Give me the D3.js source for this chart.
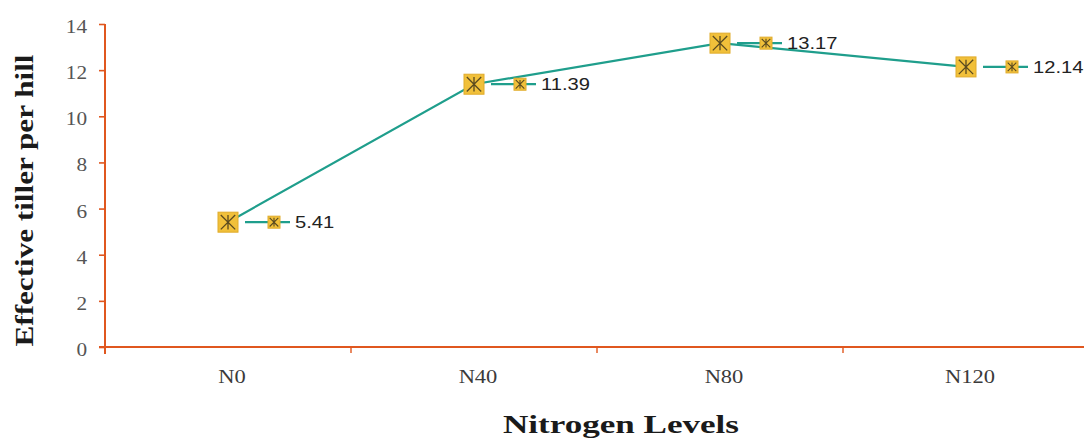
<!DOCTYPE html>
<html>
<head>
<meta charset="utf-8">
<script src="https://cdn.jsdelivr.net/npm/d3@7"></script>
<style>
  html, body { margin: 0; padding: 0; background: #fff; }
  svg { display: block; }
</style>
</head>
<body>
<svg id="chart" width="1084" height="440"></svg>
<script>
// Effective tillers per hill at each nitrogen level
const levels = ["N0", "N40", "N80", "N120"];
const tillers = [5.41, 11.39, 13.17, 12.14];
const yTicks = [0, 2, 4, 6, 8, 10, 12, 14];

const svg = d3.select("#chart");
const W = 1084, H = 440;
const m = { left: 105, top: 24, bottom: 93 };
const plotRight = 1089;

const axisColor = "#e0571f";
const lineColor = "#1f9e8c";
const markFill = "#f1c03a";
const markEdge = "#e0ab2a";
const starColor = "#5a4a20";
const serif = "'Liberation Serif', 'Times New Roman', serif";
const sans = "'Liberation Sans', Arial, sans-serif";

// widen a text element horizontally by factor k
function widen(sel, k) {
  sel.each(function () {
    const w = this.getComputedTextLength();
    d3.select(this).attr("textLength", w * k).attr("lengthAdjust", "spacingAndGlyphs");
  });
}

const x = d3.scaleBand().domain(levels).range([m.left, plotRight]);
const y = d3.scaleLinear().domain([0, 14]).range([H - m.bottom, m.top]);
const cx = d => x(d) + x.bandwidth() / 2;

// y axis
const yAxis = svg.append("g").attr("transform", `translate(${m.left},0)`)
  .call(d3.axisLeft(y).tickValues(yTicks).tickSize(6).tickPadding(12));
yAxis.select(".domain").attr("stroke", axisColor).attr("stroke-width", 2)
  .attr("d", `M0,${y(14)}V${y(0) + 7}`);
yAxis.selectAll(".tick line").attr("stroke", axisColor).attr("stroke-width", 1.6);
yAxis.selectAll(".tick text")
  .attr("font-family", serif).attr("font-size", 19).attr("fill", "#555")
  .attr("dy", "0.45em");
widen(yAxis.selectAll(".tick text"), 1.12);

// x axis: ticks sit on category boundaries
const xAxisG = svg.append("g").attr("transform", `translate(0,${y(0)})`);
xAxisG.append("line").attr("x1", m.left - 6).attr("x2", W)
  .attr("stroke", axisColor).attr("stroke-width", 2);
xAxisG.selectAll(".bt").data(levels.slice(1)).join("line")
  .attr("class", "bt")
  .attr("x1", d => x(d)).attr("x2", d => x(d))
  .attr("y1", 0).attr("y2", 6)
  .attr("stroke", axisColor).attr("stroke-width", 1.4);
const xLabels = xAxisG.selectAll(".lab").data(levels).join("text")
  .attr("class", "lab")
  .attr("x", d => cx(d) + 4).attr("y", 36)
  .attr("text-anchor", "middle")
  .attr("font-family", serif)
  .attr("font-size", 18).attr("fill", "#3a3a3a")
  .text(d => d);
widen(xLabels, 1.25);

// axis titles
const yTitle = svg.append("text")
  .attr("transform", `translate(33,${(y(0) + y(14)) / 2 + 15}) rotate(-90)`)
  .attr("text-anchor", "middle")
  .attr("font-family", serif)
  .attr("font-weight", "bold").attr("font-size", 26).attr("fill", "#1a1a1a")
  .text("Effective tiller per hill");
yTitle.attr("textLength", 292).attr("lengthAdjust", "spacingAndGlyphs");

const xTitle = svg.append("text")
  .attr("x", 621).attr("y", 433)
  .attr("text-anchor", "middle")
  .attr("font-family", serif)
  .attr("font-weight", "bold").attr("font-size", 26).attr("fill", "#1a1a1a")
  .text("Nitrogen Levels");
xTitle.attr("textLength", 236).attr("lengthAdjust", "spacingAndGlyphs");

// series line
const data = levels.map((l, i) => ({ level: l, v: tillers[i] }));
svg.append("path").datum(data)
  .attr("fill", "none").attr("stroke", lineColor).attr("stroke-width", 2.2)
  .attr("d", d3.line().x(d => cx(d.level)).y(d => y(d.v)));

// square marker with star cross
function marker(g, px, py, s) {
  g.append("rect").attr("x", px - s / 2).attr("y", py - s / 2)
    .attr("width", s).attr("height", s)
    .attr("fill", markFill).attr("stroke", markEdge).attr("stroke-width", 1);
  const r = s * 0.36;
  const path = `M${px - r},${py - r}L${px + r},${py + r}M${px - r},${py + r}L${px + r},${py - r}` +
    `M${px},${py - r}L${px},${py + r}`;
  g.append("path").attr("d", path).attr("stroke", starColor)
    .attr("stroke-width", s > 14 ? 1.3 : 1.1).attr("fill", "none");
}

const pts = svg.append("g");
data.forEach(d => {
  const px = cx(d.level), py = y(d.v);
  // legend key beside each data label
  pts.append("line").attr("x1", px + 17).attr("x2", px + 62)
    .attr("y1", py).attr("y2", py)
    .attr("stroke", lineColor).attr("stroke-width", 2.2);
  marker(pts, px, py, 20);
  marker(pts, px + 46, py, 12);
  const t = pts.append("text").attr("x", px + 67).attr("y", py + 6)
    .attr("font-family", sans)
    .attr("font-size", 16).attr("fill", "#222")
    .text(d3.format(".2f")(d.v));
  widen(t, 1.26);
});
</script>
</body>
</html>
